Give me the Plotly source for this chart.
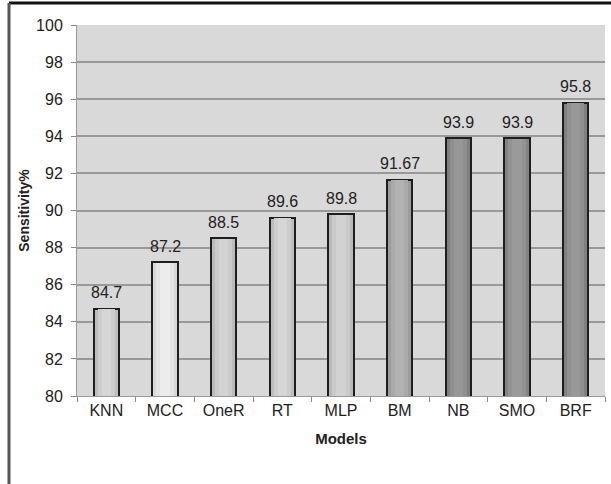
import plotly.graph_objects as go

models = ["KNN", "MCC", "OneR", "RT", "MLP", "BM", "NB", "SMO", "BRF"]
sensitivity = [84.7, 87.2, 88.5, 89.6, 89.8, 91.67, 93.9, 93.9, 95.8]
value_labels = ["84.7", "87.2", "88.5", "89.6", "89.8", "91.67", "93.9", "93.9", "95.8"]

# shading per bar: edge tone and centre highlight tone
edge_colors = ["#bdbdbd", "#d8d8d8", "#bbbbbb", "#bdbdbd", "#bababa", "#9c9c9c", "#7f7f7f", "#838383", "#808080"]
mid_colors = ["#cdcdcd", "#e4e4e4", "#cbcbcb", "#cdcdcd", "#cacaca", "#aaaaaa", "#8f8f8f", "#939393", "#909090"]
core_colors = ["#d6d6d6", "#ececec", "#d3d3d3", "#d6d6d6", "#d2d2d2", "#b2b2b2", "#979797", "#9a9a9a", "#989898"]

n = len(models)
font = "Arial, Liberation Sans, sans-serif"
fig = go.Figure()

# outer bar with dark outline
fig.add_trace(go.Bar(
    x=models, y=sensitivity, width=[0.43] * n,
    marker=dict(color=edge_colors, line=dict(color="#1e1e1e", width=2)),
    hoverinfo="skip", showlegend=False,
))
# inner bands to give a rounded look
fig.add_trace(go.Bar(
    x=models, y=[v - 0.03 for v in sensitivity], width=[0.30] * n,
    marker=dict(color=mid_colors, line=dict(width=0)),
    hoverinfo="skip", showlegend=False,
))
fig.add_trace(go.Bar(
    x=models, y=[v - 0.03 for v in sensitivity], width=[0.16] * n,
    marker=dict(color=core_colors, line=dict(width=0)),
    hoverinfo="skip", showlegend=False,
))

# value labels above each bar
annotations = [
    dict(x=m, y=v, text=t, showarrow=False, yanchor="middle", yshift=16,
         font=dict(family=font, size=16, color="#222222"))
    for m, v, t in zip(models, sensitivity, value_labels)
]

fig.update_layout(
    width=611, height=484,
    margin=dict(l=77, r=6, t=25, b=88),
    paper_bgcolor="white", plot_bgcolor="#d9d9d9",
    barmode="overlay", bargap=0.0,
    font=dict(family=font, size=16, color="#222222"),
    annotations=annotations,
    xaxis=dict(
        showgrid=False, ticks="outside", tickson="boundaries", ticklen=5,
        tickcolor="#8a8a8a", showline=True, linecolor="#9a9a9a", linewidth=1,
        tickfont=dict(size=16, color="#222222"),
        title=dict(text="<b>Models</b>", font=dict(size=15, color="#222222"), standoff=15),
    ),
    yaxis=dict(
        range=[80, 100], dtick=2, showgrid=True, gridcolor="#999999", gridwidth=1.5,
        ticks="outside", ticklen=5, tickcolor="#8a8a8a", showline=True,
        linecolor="#9a9a9a", linewidth=1, zeroline=False, ticklabelstandoff=5,
        tickfont=dict(size=16, color="#222222"),
        title=dict(text="<b>Sensitivity%</b>", font=dict(size=14, color="#222222"), standoff=3),
    ),
    shapes=[
        dict(type="line", xref="paper", yref="paper", x0=-0.1288, x1=1.02,
             y0=1.0593, y1=1.0593, line=dict(color="#111111", width=3)),
        dict(type="line", xref="paper", yref="paper", x0=-0.1288, x1=-0.1288,
             y0=1.0593, y1=-0.25, line=dict(color="#555555", width=3)),
    ],
)

fig.write_html("out.html")
